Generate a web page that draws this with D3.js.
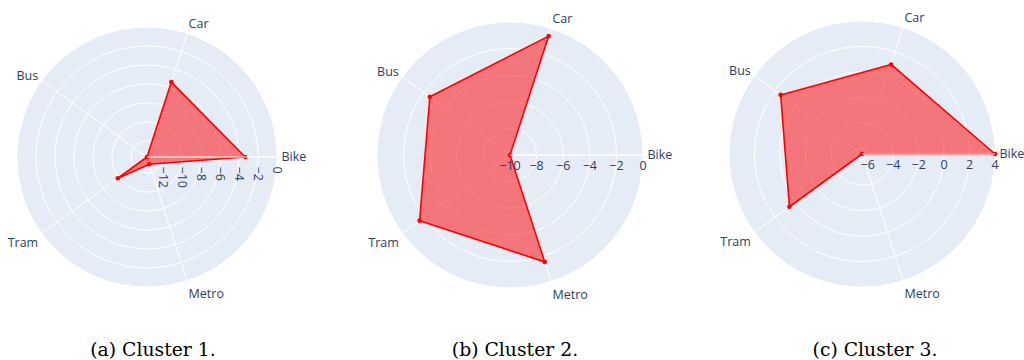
<!DOCTYPE html>
<html>
<head>
<meta charset="utf-8">
<script src="https://cdn.jsdelivr.net/npm/d3@7"></script>
<style>
  html, body { margin: 0; padding: 0; background: #fff; }
  svg { display: block; }
</style>
</head>
<body>
<svg id="chart" width="1024" height="360"></svg>
<script>
// Transport modes around each radar
const categories = ["Bike", "Car", "Bus", "Tram", "Metro"];

// Cluster scores per mode (same order as categories)
const cluster1 = [-3.35, -5.4, -13.7, -9.9, -12.9];
const cluster2 = [-10, -0.6, -2.55, -1.6, -1.55];
const cluster3 = [4, 0.95, 1.45, 0.6, -6.45];

// Radial tick labels per panel
const ticks1 = [-12, -10, -8, -6, -4, -2, 0];
const ticks2 = [-10, -8, -6, -4, -2, 0];
const ticks3 = [-6, -4, -2, 0, 2, 4];

// Panel captions
const captions = ["(a) Cluster 1.", "(b) Cluster 2.", "(c) Cluster 3."];

const panels = [
  { values: cluster1, ticks: ticks1, domain: [-13.7, 0], cx: 147, cy: 157, R: 130, rotateTicks: true,  capX: 153 },
  { values: cluster2, ticks: ticks2, domain: [-10, 0],   cx: 510, cy: 155, R: 133, rotateTicks: false, capX: 515 },
  { values: cluster3, ticks: ticks3, domain: [-6.45, 4], cx: 862, cy: 154, R: 133, rotateTicks: false, capX: 875 }
];

const svg = d3.select("#chart");
const FONT = "'Open Sans', verdana, arial, sans-serif";
const TEXT = "#2a3f5f";
const BG = "#E5ECF6";
const TRACE = "#ff0000";
const FS = 12.5;

// angle (degrees, counter-clockwise from east) for each category
const angleDeg = d3.scaleLinear().domain([0, categories.length]).range([0, 360]);

panels.forEach((p, k) => {
  const r = d3.scaleLinear().domain(p.domain).range([0, p.R]);
  const g = svg.append("g").attr("transform", `translate(${p.cx},${p.cy})`);

  // polar background
  g.append("circle").attr("r", p.R).attr("fill", BG);

  // radial grid circles
  g.selectAll("circle.grid")
    .data(p.ticks.filter(t => r(t) > 0.5 && r(t) < p.R - 0.5))
    .join("circle")
    .attr("class", "grid")
    .attr("r", d => r(d))
    .attr("fill", "none")
    .attr("stroke", "#fff")
    .attr("stroke-width", 1);

  // angular grid spokes
  g.selectAll("line.spoke")
    .data(categories)
    .join("line")
    .attr("class", "spoke")
    .attr("x1", 0).attr("y1", 0)
    .attr("x2", (d, i) => p.R * Math.cos(angleDeg(i) * Math.PI / 180))
    .attr("y2", (d, i) => -p.R * Math.sin(angleDeg(i) * Math.PI / 180))
    .attr("stroke", "#fff")
    .attr("stroke-width", 1);

  // outer angular axis line
  g.append("circle").attr("r", p.R).attr("fill", "none")
    .attr("stroke", "#fff").attr("stroke-width", 1);

  // angular labels
  const pad = 4.5;
  g.selectAll("text.cat")
    .data(categories)
    .join("text")
    .attr("class", "cat")
    .each(function (d, i) {
      const rad = angleDeg(i) * Math.PI / 180;
      const c = Math.cos(rad), s = Math.sin(rad);
      const ff = s > 0 ? 0.2 : 1;
      const x = p.R * c + c * pad;
      const y = -p.R * s - s * (pad + FS * ff) + Math.abs(c) * FS * 0.35;
      d3.select(this)
        .attr("x", x).attr("y", y)
        .attr("text-anchor", Math.abs(c) < 0.1 ? "middle" : (c > 0 ? "start" : "end"));
    })
    .attr("font-family", FONT)
    .attr("font-size", FS)
    .attr("fill", TEXT)
    .text(d => d);

  // trace: filled polygon with markers
  const radial = d3.lineRadial()
    .angle((d, i) => Math.PI / 2 - angleDeg(i) * Math.PI / 180)
    .radius(d => r(d))
    .curve(d3.curveLinearClosed);

  g.append("path")
    .datum(p.values)
    .attr("d", radial)
    .attr("fill", TRACE)
    .attr("fill-opacity", 0.5)
    .attr("stroke", TRACE)
    .attr("stroke-width", 1.6)
    .attr("stroke-linejoin", "round");

  g.selectAll("circle.pt")
    .data(p.values)
    .join("circle")
    .attr("class", "pt")
    .attr("cx", (d, i) => r(d) * Math.cos(angleDeg(i) * Math.PI / 180))
    .attr("cy", (d, i) => -r(d) * Math.sin(angleDeg(i) * Math.PI / 180))
    .attr("r", 2.3)
    .attr("fill", TRACE);

  // radial axis line (drawn above the trace)
  g.append("line")
    .attr("x1", 0).attr("y1", 0).attr("x2", p.R).attr("y2", 0)
    .attr("stroke", "#fff").attr("stroke-width", 1);

  // radial tick labels
  const tl = g.selectAll("text.tick")
    .data(p.ticks)
    .join("text")
    .attr("class", "tick")
    .attr("font-family", FONT)
    .attr("font-size", FS)
    .attr("fill", TEXT)
    .text(d => d3.format("")(d).replace("-", "\u2212"));

  if (p.rotateTicks) {
    tl.attr("transform", d => `translate(${r(d)},9.5) rotate(90)`)
      .attr("text-anchor", "start")
      .attr("dy", "0.35em");
  } else {
    tl.attr("x", d => r(d))
      .attr("y", 14.5)
      .attr("text-anchor", "middle");
  }

  // caption
  svg.append("text")
    .attr("x", p.capX)
    .attr("y", 356)
    .attr("text-anchor", "middle")
    .attr("font-family", "'DejaVu Serif', serif")
    .attr("font-size", 18.8)
    .attr("fill", "#000")
    .text(captions[k]);
});
</script>
</body>
</html>
